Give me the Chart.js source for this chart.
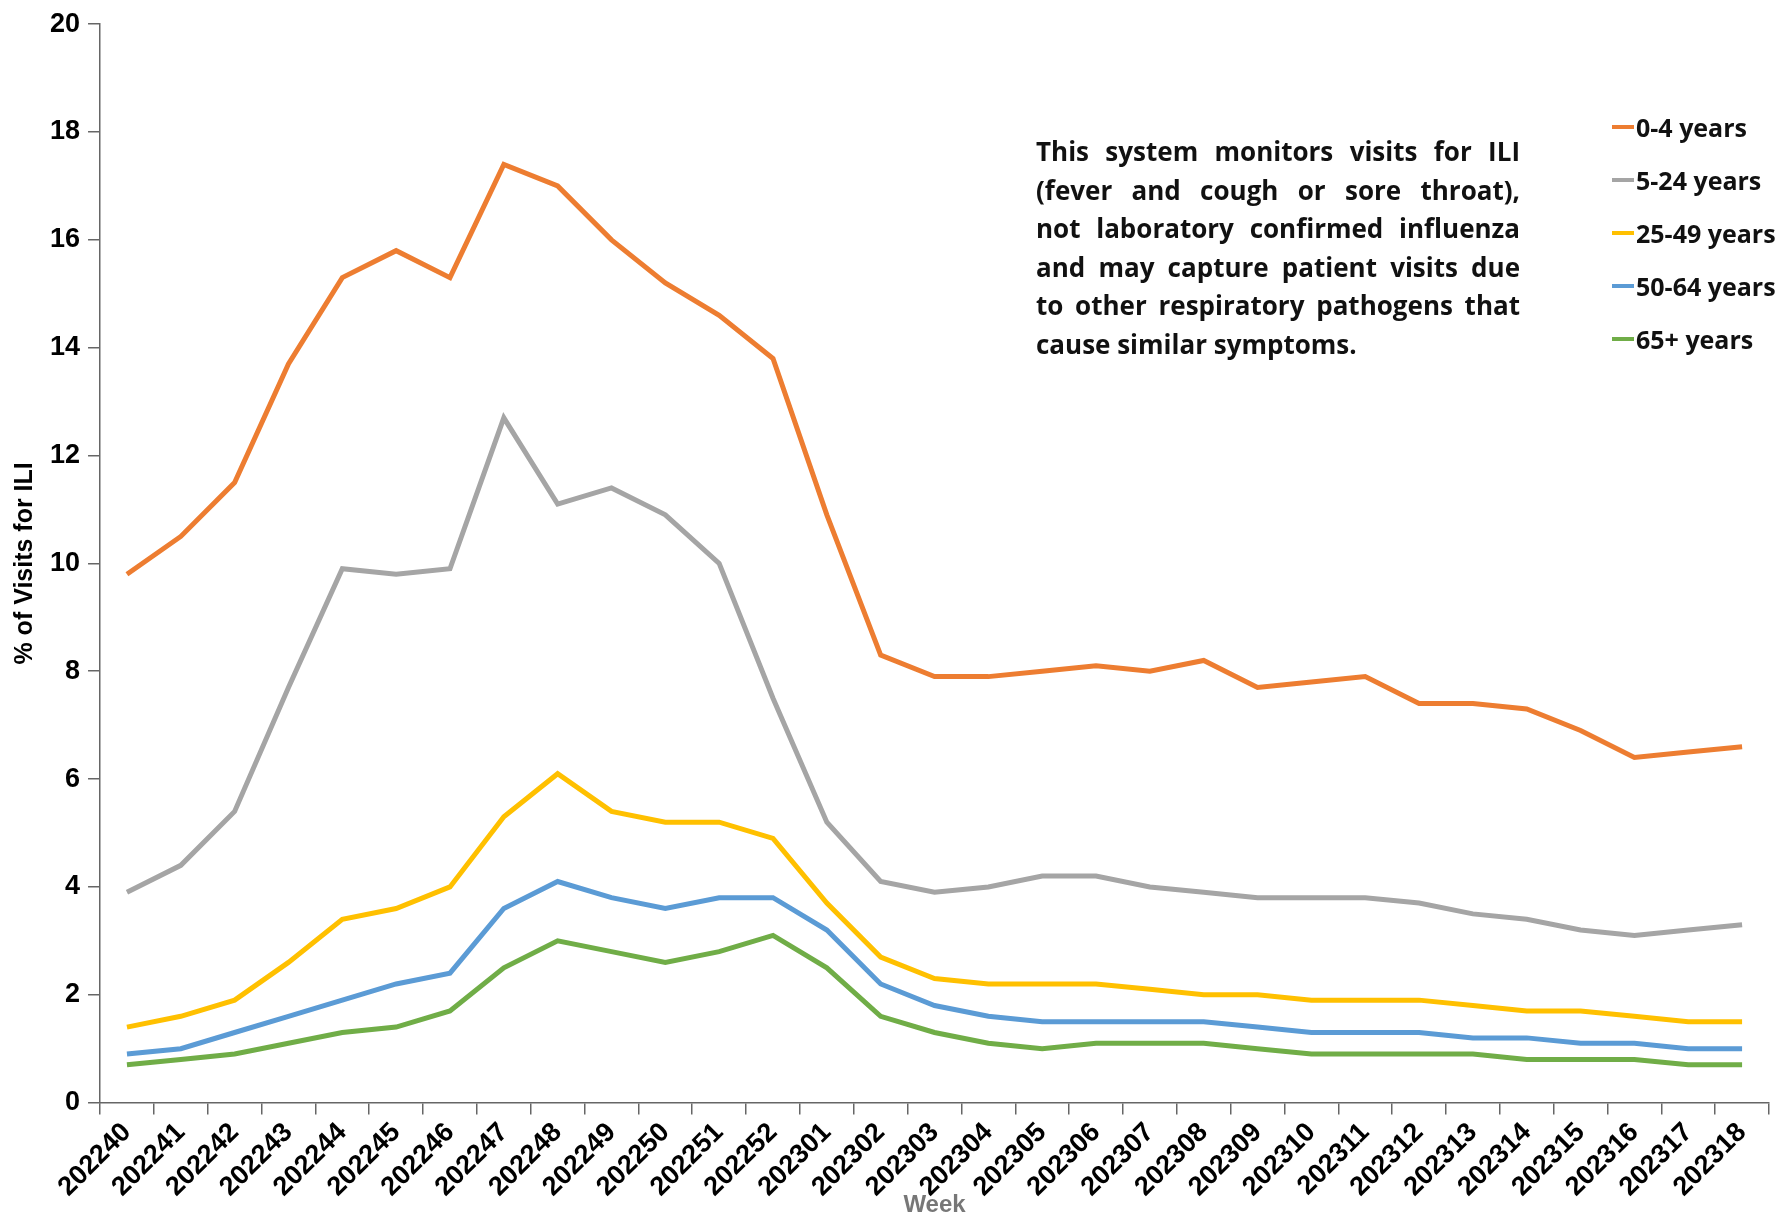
<!DOCTYPE html>
<html>
<head>
<meta charset="utf-8">
<script src="https://cdn.jsdelivr.net/npm/chart.js@4"></script>
<style>
  html, body { margin: 0; padding: 0; background: #fff; }
  #wrap { position: relative; width: 1781px; height: 1224px; }
  #note { position: absolute; left: 1036px; top: 132px; width: 484px; font: bold 26px "Open Sans", sans-serif;
          line-height: 38.6px; color: #111; white-space: nowrap; }
  #note div { text-align: justify; text-align-last: justify; }
  #note div.last { text-align-last: left; }
  #legend { position: absolute; left: 1612px; top: 100px; font: bold 25px "Open Sans", sans-serif; color: #111; white-space: nowrap; }
  #legend div { height: 53px; display: flex; align-items: center; }
  #legend span.sw { display: inline-block; width: 22px; height: 4px; margin-right: 2px; }
</style>
</head>
<body>
<div id="wrap">
  <canvas id="c" width="1781" height="1224"></canvas>
  <div id="note">
    <div>This system monitors visits for ILI</div>
    <div>(fever and cough or sore throat),</div>
    <div>not laboratory confirmed influenza</div>
    <div>and may capture patient visits due</div>
    <div>to other respiratory pathogens that</div>
    <div class="last">cause similar symptoms.</div>
  </div>
  <div id="legend"></div>
</div>
<script>
var weeks = ["202240","202241","202242","202243","202244","202245","202246","202247","202248","202249","202250","202251","202252",
  "202301","202302","202303","202304","202305","202306","202307","202308","202309","202310","202311","202312","202313","202314","202315","202316","202317","202318"];
var age0to4 = [9.8,10.5,11.5,13.7,15.3,15.8,15.3,17.4,17.0,16.0,15.2,14.6,13.8,10.9,8.3,7.9,7.9,8.0,8.1,8.0,8.2,7.7,7.8,7.9,7.4,7.4,7.3,6.9,6.4,6.5,6.6];
var age5to24 = [3.9,4.4,5.4,7.7,9.9,9.8,9.9,12.7,11.1,11.4,10.9,10.0,7.5,5.2,4.1,3.9,4.0,4.2,4.2,4.0,3.9,3.8,3.8,3.8,3.7,3.5,3.4,3.2,3.1,3.2,3.3];
var age25to49 = [1.4,1.6,1.9,2.6,3.4,3.6,4.0,5.3,6.1,5.4,5.2,5.2,4.9,3.7,2.7,2.3,2.2,2.2,2.2,2.1,2.0,2.0,1.9,1.9,1.9,1.8,1.7,1.7,1.6,1.5,1.5];
var age50to64 = [0.9,1.0,1.3,1.6,1.9,2.2,2.4,3.6,4.1,3.8,3.6,3.8,3.8,3.2,2.2,1.8,1.6,1.5,1.5,1.5,1.5,1.4,1.3,1.3,1.3,1.2,1.2,1.1,1.1,1.0,1.0];
var age65plus = [0.7,0.8,0.9,1.1,1.3,1.4,1.7,2.5,3.0,2.8,2.6,2.8,3.1,2.5,1.6,1.3,1.1,1.0,1.1,1.1,1.1,1.0,0.9,0.9,0.9,0.9,0.8,0.8,0.8,0.7,0.7];
var seriesNames = ["0-4 years","5-24 years","25-49 years","50-64 years","65+ years"];
var colors = ["#ED7D31","#A5A5A5","#FFC000","#5B9BD5","#70AD47"];
var seriesData = [age0to4, age5to24, age25to49, age50to64, age65plus];

var lg = document.getElementById("legend");
seriesNames.forEach(function (n, i) {
  var d = document.createElement("div");
  d.innerHTML = '<span class="sw" style="background:' + colors[i] + '"></span>' + n;
  lg.appendChild(d);
});

var tickFont = { family: "Liberation Sans", weight: "bold", size: 27 };
new Chart(document.getElementById("c"), {
  type: "line",
  data: {
    labels: weeks,
    datasets: seriesData.map(function (d, i) {
      return { label: seriesNames[i], data: d, borderColor: colors[i], backgroundColor: colors[i],
               borderWidth: 5, pointRadius: 0, tension: 0 };
    })
  },
  options: {
    responsive: false, animation: false,
    layout: { padding: { left: 8, right: 12, top: 16, bottom: 4 } },
    plugins: { legend: { display: false }, tooltip: { enabled: false } },
    scales: {
      x: {
        offset: true,
        grid: { display: true, drawOnChartArea: false, offset: true, tickLength: 12, color: "#666", lineWidth: 1.5 },
        border: { color: "#666", width: 1.5 },
        ticks: { color: "#000", font: tickFont, maxRotation: 45, minRotation: 45, autoSkip: false, padding: 2 },
        title: { display: true, text: "Week", color: "#777", font: { family: "Liberation Sans", weight: "bold", size: 24 }, padding: { top: -14, bottom: 0 } }
      },
      y: {
        min: 0, max: 20,
        grid: { display: true, drawOnChartArea: false, tickLength: 12, color: "#666", lineWidth: 1.5 },
        border: { color: "#666", width: 1.5 },
        ticks: { stepSize: 2, color: "#000", font: tickFont, padding: 8 },
        title: { display: true, text: "% of Visits for ILI", color: "#000", font: { family: "Liberation Sans", weight: "bold", size: 25 }, padding: 2 }
      }
    }
  }
});
</script>
</body>
</html>
